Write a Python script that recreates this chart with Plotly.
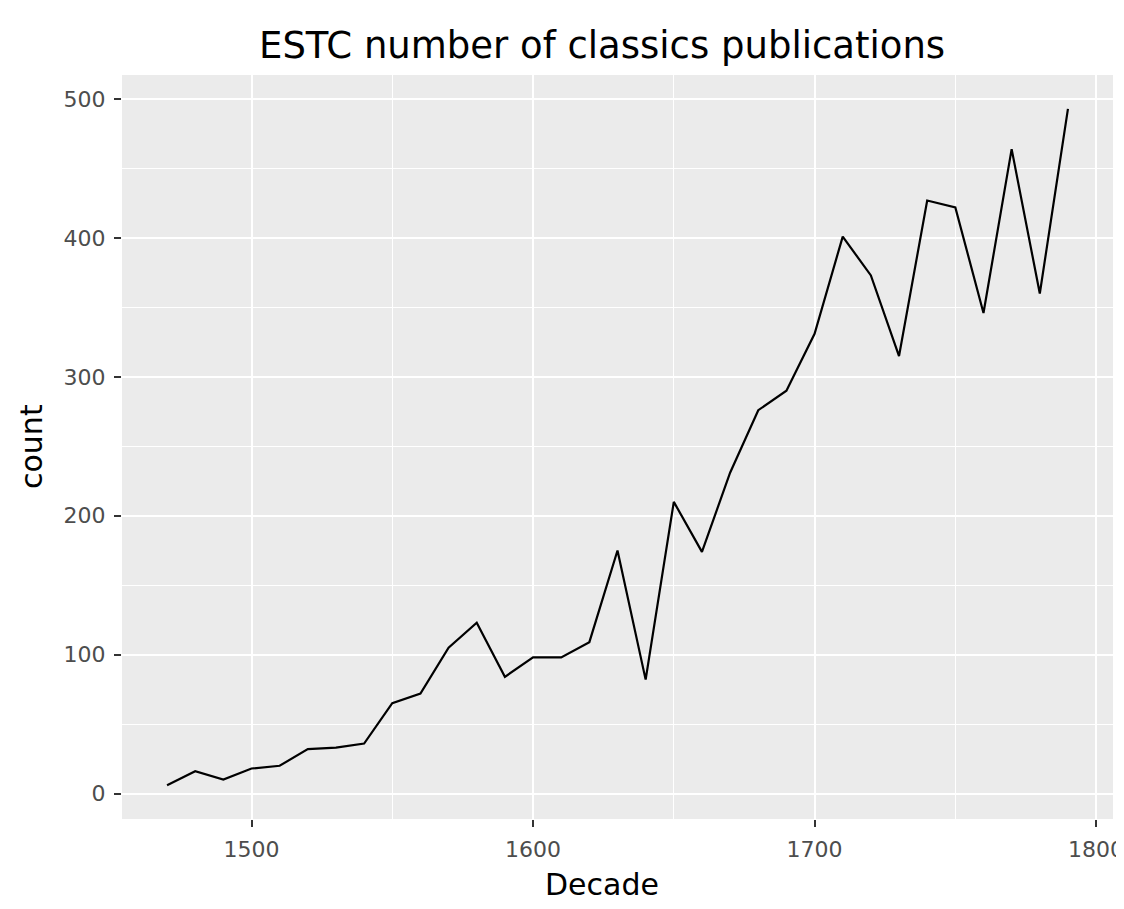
import plotly.graph_objects as go

decades = [1470, 1480, 1490, 1500, 1510, 1520, 1530, 1540, 1550, 1560,
           1570, 1580, 1590, 1600, 1610, 1620, 1630, 1640, 1650, 1660,
           1670, 1680, 1690, 1700, 1710, 1720, 1730, 1740, 1750, 1760,
           1770, 1780, 1790]
counts = [6, 16, 10, 18, 20, 32, 33, 36, 65, 72,
          105, 123, 84, 98, 98, 109, 175, 82, 210, 174,
          231, 276, 290, 331, 401, 373, 315, 427, 422, 346,
          464, 360, 493]

x_ticks = [1500, 1600, 1700, 1800]
y_ticks = [0, 100, 200, 300, 400, 500]

title_text = "ESTC number of classics publications"
x_label = "Decade"
y_label = "count"

# page body adds an 8px offset
OFF = 8
W, H = 1124 - 2 * OFF, 909 - 2 * OFF
L, T = 122 - OFF, 75 - OFF
R = W - (1113 - OFF)
B = H - (819 - OFF)
PW, PH = W - L - R, H - T - B

def px_x(sx):
    return (sx - OFF - L) / PW

def px_y(sy):
    return 1 - (sy - OFF - T) / PH

fig = go.Figure()
fig.add_trace(go.Scatter(x=decades, y=counts, mode="lines",
                         line=dict(color="black", width=2.2),
                         showlegend=False, hoverinfo="x+y"))

xr = [min(decades), max(decades)]
xpad = (xr[1] - xr[0]) * 0.05
yr = [min(counts), max(counts)]
ypad = (yr[1] - yr[0]) * 0.05

font_family = "DejaVu Sans"
axis_common = dict(
    showgrid=True, gridcolor="white", gridwidth=2,
    zeroline=False, showline=False, automargin=False,
    ticks="outside", ticklen=7, tickwidth=1.5, tickcolor="#333333",
    tickfont=dict(family=font_family, size=22, color="#4D4D4D"),
    minor=dict(showgrid=True, gridcolor="white", gridwidth=1, ticks=""),
    ticklabeloverflow="allow",
)

fig.update_xaxes(range=[xr[0] - xpad, xr[1] + xpad], tickvals=x_ticks,
                 minor_tickvals=[1450, 1550, 1650, 1750],
                 ticklabelstandoff=4, **axis_common)
fig.update_yaxes(range=[yr[0] - ypad, yr[1] + ypad], tickvals=y_ticks,
                 minor_tickvals=[50, 150, 250, 350, 450],
                 ticklabelstandoff=4, **axis_common)

fig.update_layout(
    width=W, height=H,
    margin=dict(l=L, r=R, t=T, b=B, pad=0, autoexpand=False),
    paper_bgcolor="white", plot_bgcolor="#EBEBEB",
    font=dict(family=font_family, color="black"),
    annotations=[
        dict(text=title_text, xref="paper", yref="paper",
             x=px_x(602), y=px_y(45),
             xanchor="center", yanchor="middle", showarrow=False,
             font=dict(family=font_family, size=37, color="black")),
        dict(text=x_label, xref="paper", yref="paper",
             x=px_x(602), y=px_y(884),
             xanchor="center", yanchor="middle", showarrow=False,
             font=dict(family=font_family, size=30, color="black")),
        dict(text=y_label, xref="paper", yref="paper",
             x=px_x(31), y=0.5, textangle=-90,
             xanchor="center", yanchor="middle", showarrow=False,
             font=dict(family=font_family, size=30, color="black")),
    ],
)

fig.write_html("out.html")
